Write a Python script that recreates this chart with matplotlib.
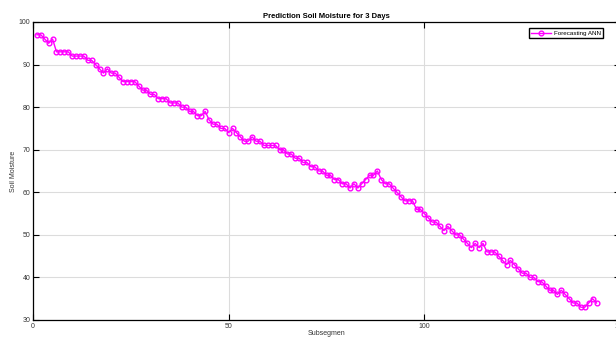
import numpy as np
import matplotlib
matplotlib.use('Agg')
import matplotlib.pyplot as plt

# soil moisture forecast per subsegment
moisture = [97, 97, 96, 95, 96, 93, 93, 93, 93, 92,
            92, 92, 92, 91, 91, 90, 89, 88, 89, 88,
            88, 87, 86, 86, 86, 86, 85, 84, 84, 83,
            83, 82, 82, 82, 81, 81, 81, 80, 80, 79,
            79, 78, 78, 79, 77, 76, 76, 75, 75, 74,
            75, 74, 73, 72, 72, 73, 72, 72, 71, 71,
            71, 71, 70, 70, 69, 69, 68, 68, 67, 67,
            66, 66, 65, 65, 64, 64, 63, 63, 62, 62,
            61, 62, 61, 62, 63, 64, 64, 65, 63, 62,
            62, 61, 60, 59, 58, 58, 58, 56, 56, 55,
            54, 53, 53, 52, 51, 52, 51, 50, 50, 49,
            48, 47, 48, 47, 48, 46, 46, 46, 45, 44,
            43, 44, 43, 42, 41, 41, 40, 40, 39, 39,
            38, 37, 37, 36, 37, 36, 35, 34, 34, 33,
            33, 34, 35, 34]
segments = np.arange(1, len(moisture) + 1)

plt.rcParams['font.family'] = ['Liberation Sans', 'DejaVu Sans']

fig = plt.figure(figsize=(6.16, 3.39), dpi=100)
ax = fig.add_axes([33/616, 1 - 320/339, 587/616, 298/339])

ax.plot(segments, moisture, color='#ff00ff', lw=1.0, marker='o',
        markersize=3.4, markerfacecolor='none', markeredgewidth=1.0,
        label='Forecasting ANN')

ax.set_xlim(0, 150)
ax.set_ylim(30, 100)
ax.set_xticks([0, 50, 100, 150])
ax.set_yticks(range(30, 101, 10))
ax.grid(True, color='#dcdcdc', lw=0.8)
ax.set_axisbelow(True)
ax.tick_params(direction='in', length=4, width=0.8, labelsize=5,
               labelcolor='#333333', top=True, right=True, pad=2)
for s in ax.spines.values():
    s.set_linewidth(0.9)

ax.set_title('Prediction Soil Moisture for 3 Days', fontsize=5.5,
             fontweight='bold', pad=3)
ax.set_xlabel('Subsegmen', fontsize=5, labelpad=0, color='#333333')
ax.set_ylabel('Soil Moisture', fontsize=5, labelpad=1, color='#333333')

ax.legend(loc='upper right', bbox_to_anchor=(606/616, 1 - 25/339),
          bbox_transform=fig.transFigure, fontsize=4.5, frameon=True,
          fancybox=False, edgecolor='black', framealpha=1,
          handlelength=3.2, borderpad=0.35, handletextpad=0.4)

plt.savefig('out.png', dpi=100)
